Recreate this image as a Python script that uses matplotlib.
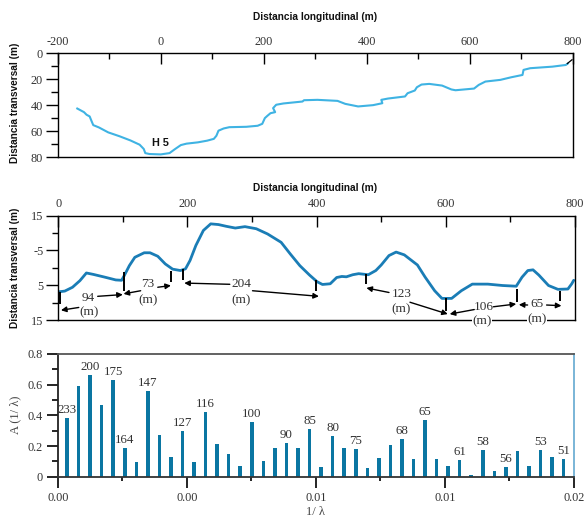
import matplotlib
matplotlib.use("Agg")
import matplotlib.pyplot as plt
import numpy as np

plt.rcParams['axes.unicode_minus'] = False
SERIF = ['Liberation Serif', 'DejaVu Serif']
SANS = ['Liberation Sans', 'DejaVu Sans']

# ---------------- data ----------------
# Panel 1: profile H5
top_x = [-162, -149, -144, -138, -134, -131, -120, -102, -80, -59, -41, -33, -30, -22, 0, 17, 28, 39,
         50, 72, 90, 103, 108, 112, 122, 133, 166, 188, 197, 202, 207, 213, 222, 218, 224, 238, 275,
         278, 304, 343, 358, 383, 412, 430, 428, 441, 474, 479, 493, 497, 506, 521, 546, 564, 572,
         608, 617, 630, 659, 680, 702, 704, 717, 760, 786, 790]
top_y = [42.6, 45.4, 47.4, 48.7, 52.6, 55.4, 57.2, 61.0, 64.0, 67.2, 70.5, 73.8, 77.0, 77.7, 78.0,
         77.0, 73.8, 70.8, 69.7, 68.7, 67.4, 66.0, 63.6, 59.7, 58.0, 57.0, 56.7, 55.9, 54.4, 50.0,
         48.2, 46.2, 45.4, 42.3, 39.7, 38.7, 37.2, 36.2, 35.9, 36.7, 39.0, 41.0, 40.0, 38.5, 35.9,
         34.9, 33.3, 30.8, 28.7, 26.2, 24.1, 23.6, 24.9, 27.9, 28.5, 27.2, 24.4, 21.8, 20.5, 18.5,
         16.7, 12.8, 11.5, 10.3, 9.0, 7.9]
top_end_x = [789, 798]
top_end_y = [7.9, 5.0]
top_tag = "H 5"

# Panel 2: profile with wavelengths
mid_x = [1, 10, 22, 33.5, 43.5, 54, 72, 89, 98, 102, 110, 118.5, 133, 142, 154, 165.6, 177, 189,
         197, 204, 213, 224.6, 236, 248, 260, 274, 289, 306.5, 324, 345, 359, 374, 389, 400.6, 409,
         421, 431, 439, 446, 456, 465, 480, 491.6, 500, 512, 523, 535.7, 556, 568, 582.7, 594, 609,
         624, 641, 665, 688, 709, 718, 727, 735, 744, 759, 773.6, 789, 795, 798]
mid_y = [6.9, 6.7, 5.6, 3.7, 1.5, 1.9, 2.7, 3.5, 3.6, 2.3, -0.6, -3.0, -4.3, -4.3, -3.3, -1.1, 0.4,
         0.8, 0.3, -2.1, -6.4, -10.7, -12.6, -12.4, -11.9, -11.4, -11.8, -11.2, -9.7, -7.3, -4.0,
         -0.6, 2.1, 4.0, 4.8, 4.6, 2.8, 2.5, 2.6, 2.0, 1.7, 2.0, 0.8, -0.8, -3.5, -4.5, -3.7, -0.8,
         2.7, 6.6, 8.8, 8.8, 6.6, 4.7, 4.7, 5.1, 5.3, 2.7, 0.8, 0.6, 2.1, 5.1, 6.2, 6.1, 4.6, 3.6]

mark_x = [2.3, 101, 175, 193, 399, 476, 600, 710, 777]
mark_y0 = [7.0, 1.3, 0.8, 0.5, 3.4, 1.9, 8.8, 6.1, 6.6]
mark_y1 = [10.4, 6.6, 4.0, 3.4, 6.6, 4.7, 12.3, 9.9, 9.5]

wave_labels = ["94", "73", "204", "123", "106", "65"]
wave_num_xy = [(46, 8.8), (139, 4.8), (283, 4.8), (531, 7.5), (659, 11.4), (741, 10.4)]
wave_unit_xy = [(48, 12.8), (139, 9.2), (283, 9.2), (530, 11.8), (656, 15.4), (741, 14.7)]
arrow_tails = [(31.7, 11.4), (61, 8.2), (127.5, 6.6), (154, 5.6), (265.5, 4.75), (300.7, 6.6),
               (512, 7.1), (544.5, 9.9), (644, 12.0), (673.7, 11.2), (726.6, 10.7), (756, 10.7)]
arrow_heads = [(4.1, 12.2), (99.9, 7.7), (101, 7.5), (174.4, 5.1), (195, 4.4), (403.5, 8.2),
               (477, 5.8), (603, 13.3), (606, 13.3), (709, 10.4), (713, 10.6), (779, 10.9)]

# Panel 3: amplitude spectrum
amp = [0.38, 0.59, 0.66, 0.47, 0.63, 0.185, 0.096, 0.56, 0.27, 0.126, 0.30, 0.096, 0.42, 0.213,
       0.146, 0.067, 0.354, 0.104, 0.19, 0.22, 0.186, 0.31, 0.063, 0.265, 0.19, 0.183, 0.059,
       0.122, 0.204, 0.246, 0.113, 0.37, 0.117, 0.072, 0.109, 0.013, 0.174, 0.035, 0.063, 0.165,
       0.07, 0.172, 0.126, 0.117]
freq = np.linspace(0.00036, 0.0196, len(amp))
amp_labels = {0: "233", 2: "200", 4: "175", 5: "164", 7: "147", 10: "127", 12: "116", 16: "100",
              19: "90", 21: "85", 23: "80", 25: "75", 29: "68", 31: "65", 34: "61", 36: "58",
              38: "56", 41: "53", 43: "51"}
spec_xticks = [0, 0.005, 0.01, 0.015, 0.02]
spec_xticklabels = ["0.00", "0.00", "0.01", "0.01", "0.02"]
spec_yticks = [0, 0.2, 0.4, 0.6, 0.8]
spec_yticklabels = ["0", "0.2", "0.4", "0.6", "0.8"]

# ---------------- figure ----------------
W, H = 584, 520
fig = plt.figure(figsize=(W / 100, H / 100), dpi=100)

def ax_rect(l, t, r, b):
    return [l / W, 1 - b / H, (r - l) / W, (b - t) / H]

TICK_COLOR = '#333333'
title_kw = dict(family=SANS, fontweight='bold', fontsize=7.3, color='#111111')

def style_ticks(ax):
    for lab in ax.get_xticklabels() + ax.get_yticklabels():
        lab.set_family(SERIF)
        lab.set_fontsize(8.8)
        lab.set_color(TICK_COLOR)

# ---- panel 1 ----
ax1 = fig.add_axes(ax_rect(57.7, 53.3, 573, 157))
ax1.plot(top_x, top_y, color='#3fb3e3', lw=1.5, solid_joinstyle='round')
ax1.plot(top_end_x, top_end_y, color='black', lw=0.9)
ax1.text(0, 69, top_tag, ha='center', va='center', family=SANS, fontweight='bold',
         fontsize=7.8, color='#111111')
ax1.set_xlim(-200, 800)
ax1.set_ylim(80, 0)
ax1.xaxis.tick_top()
ax1.set_xticks(np.arange(-200, 801, 200))
ax1.set_xticks(np.arange(-100, 800, 200), minor=True)
ax1.set_yticks(np.arange(0, 81, 20))
ax1.set_yticks(np.arange(10, 80, 20), minor=True)
ax1.tick_params(axis='x', which='major', direction='in', length=8, width=1, pad=4, top=True, bottom=False)
ax1.tick_params(axis='x', which='minor', direction='in', length=4.5, width=1, top=True, bottom=False)
ax1.tick_params(axis='y', which='major', direction='out', length=8.5, width=1, pad=2)
ax1.tick_params(axis='y', which='minor', direction='out', length=5, width=1)
for s in ax1.spines.values():
    s.set_linewidth(1.0)
style_ticks(ax1)

# ---- panel 2 ----
ax2 = fig.add_axes(ax_rect(58.3, 215.5, 575, 320))
ax2.plot(mid_x, mid_y, color='#1a7db6', lw=2.0, solid_capstyle='round')
ax2.vlines(mark_x, mark_y0, mark_y1, color='black', lw=1.4)
for lab, (nx, ny), (ux, uy) in zip(wave_labels, wave_num_xy, wave_unit_xy):
    ax2.text(nx, ny, lab, ha='center', va='center', family=SERIF, fontsize=9.5, color='#333333',
             bbox=dict(facecolor='white', edgecolor='none', pad=0.3), zorder=5, clip_on=False)
    ax2.text(ux, uy, "(m)", ha='center', va='center', family=SERIF, fontsize=9.5, color='#333333',
             bbox=dict(facecolor='white', edgecolor='none', pad=0.3), zorder=5, clip_on=False)
for tail, head in zip(arrow_tails, arrow_heads):
    ax2.annotate('', xy=head, xytext=tail,
                 arrowprops=dict(arrowstyle='-|>', color='black', lw=1.0, mutation_scale=8,
                                 shrinkA=0, shrinkB=0), zorder=6)
ax2.set_xlim(0, 800)
ax2.set_ylim(15, -15)
ax2.xaxis.tick_top()
ax2.set_xticks(np.arange(0, 801, 200))
ax2.set_xticks(np.arange(100, 800, 200), minor=True)
ax2.set_yticks([-15, -5, 5, 15])
ax2.set_yticklabels(["15", "-5", "5", "15"])
ax2.set_yticks([-10, 0, 10], minor=True)
ax2.tick_params(axis='x', which='major', direction='in', length=8, width=1, pad=4, top=True, bottom=False)
ax2.tick_params(axis='x', which='minor', direction='in', length=4, width=1, top=True, bottom=False)
ax2.tick_params(axis='y', which='major', direction='out', length=8.5, width=1, pad=2)
ax2.tick_params(axis='y', which='minor', direction='out', length=4.5, width=1)
for s in ax2.spines.values():
    s.set_linewidth(1.0)
style_ticks(ax2)

# ---- panel 3 ----
ax3 = fig.add_axes(ax_rect(57.7, 354, 574, 476.7))
ax3.bar(freq, amp, width=0.000138, color='#0a76a2', zorder=2)
for i, lab in amp_labels.items():
    ax3.annotate(lab, (freq[i], amp[i]), xytext=(0, 1.5), textcoords='offset points',
                 ha='center', va='bottom', family=SERIF, fontsize=9.3, color='#333333')
ax3.set_xlim(0, 0.02)
ax3.set_ylim(0, 0.8)
ax3.set_xticks(spec_xticks)
ax3.set_xticklabels(spec_xticklabels)
ax3.set_xticks([0.0025, 0.0075, 0.0125, 0.0175], minor=True)
ax3.set_yticks(spec_yticks)
ax3.set_yticklabels(spec_yticklabels)
ax3.set_yticks([0.1, 0.3, 0.5, 0.7], minor=True)
ax3.tick_params(axis='x', which='major', direction='out', length=8, width=1.2, pad=3)
ax3.tick_params(axis='x', which='minor', direction='out', length=3, width=1.2)
ax3.tick_params(axis='y', which='major', direction='out', length=8, width=1.2, pad=3)
ax3.tick_params(axis='y', which='minor', direction='out', length=4.5, width=1.2)
ax3.spines['left'].set_color('#222222')
ax3.spines['bottom'].set_color('#333333')
ax3.spines['top'].set_color('#555555')
ax3.spines['right'].set_color('#6fb0d4')
for s in ax3.spines.values():
    s.set_linewidth(1.3)
ax3.spines['bottom'].set_zorder(3)
style_ticks(ax3)

# ---- titles and labels ----
fig.text(315 / W, 1 - 17 / H, "Distancia longitudinal (m)", ha='center', va='center', **title_kw)
fig.text(315 / W, 1 - 188 / H, "Distancia longitudinal (m)", ha='center', va='center', **title_kw)
fig.text(15 / W, 1 - 103 / H, "Distancia transversal (m)", ha='center', va='center',
         rotation=90, **title_kw)
fig.text(15 / W, 1 - 268 / H, "Distancia transversal (m)", ha='center', va='center',
         rotation=90, **title_kw)
fig.text(15 / W, 1 - 415 / H, "A (1/ λ)", ha='center', va='center', rotation=90,
         family=SERIF, fontsize=9, color='#444444')
fig.text(315 / W, 2 / H, "1/ λ", ha='center', va='bottom',
         family=SERIF, fontsize=9, color='#444444')

fig.savefig("out.png", dpi=100)
